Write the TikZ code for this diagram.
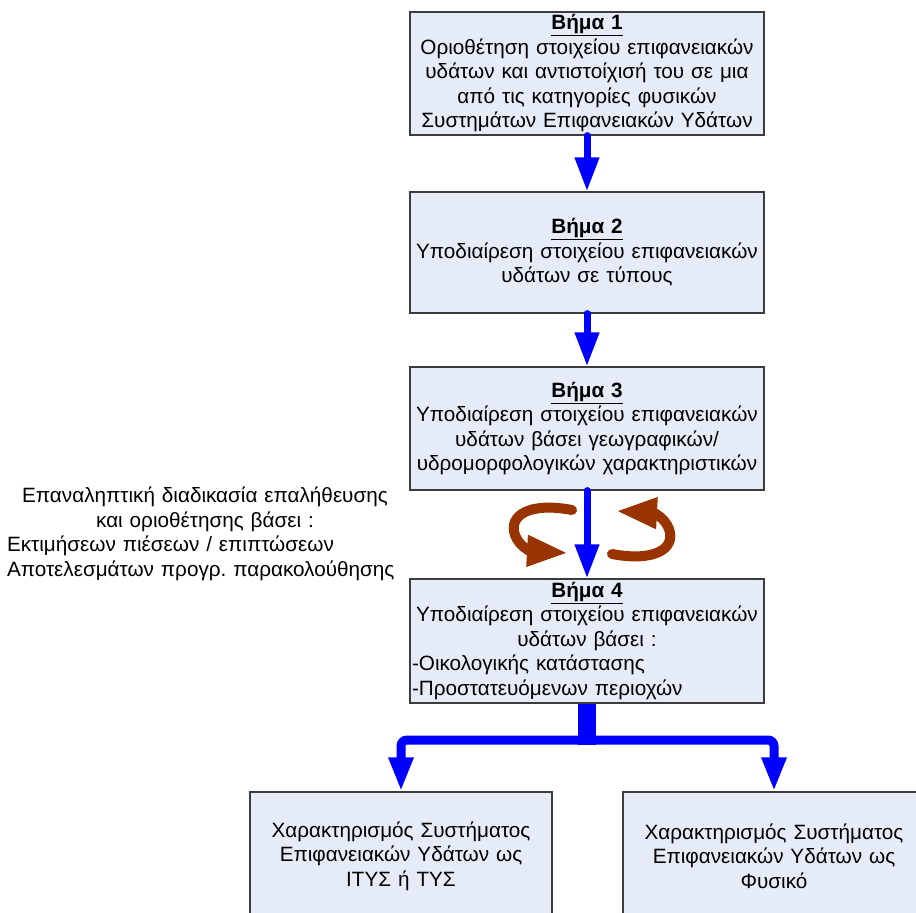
\documentclass[tikz,border=0pt]{standalone}
\usepackage{fontspec}
\setmainfont{Liberation Sans}
\usetikzlibrary{arrows.meta}
\definecolor{boxfill}{RGB}{230,236,247}
\definecolor{boxline}{RGB}{60,60,60}
\definecolor{loopbrown}{RGB}{153,51,0}
\definecolor{flowblue}{RGB}{0,0,255}
\frenchspacing
\begin{document}
\begin{tikzpicture}[x=1pt,y=-1pt,
  txt/.style={font=\fontsize{20.7}{24.5}\selectfont},
  stepbox/.style={txt,draw=boxline,fill=boxfill,line width=1.2pt,minimum width=354pt,inner sep=0pt,text width=350pt},
  endbox/.style={txt,draw=boxline,fill=boxfill,line width=1.2pt,minimum width=302pt,minimum height=128pt,inner sep=0pt,text width=298pt,align=center},
  flow/.style={draw=flowblue,line width=7pt,line cap=round,-{Triangle[width=23pt,length=34pt]}},
  forkleg/.style={draw=flowblue,line width=9pt,rounded corners=6pt,-{Triangle[width=23pt,length=34pt]}},
  loopy/.style={draw=loopbrown,line width=10pt,line cap=round,-{Triangle[width=29pt,length=41pt]}}]
\useasboundingbox (0,0) rectangle (916,913);
\clip (0,0) rectangle (916,913);
\fill[white] (0,0) rectangle (916,913);

\node[stepbox,minimum height=123pt,align=center] (b1) at (587,73.5)
 {\underline{\textbf{Βήμα 1}}\\Οριοθέτηση στοιχείου επιφανειακών\\υδάτων και αντιστοίχισή του σε μια\\από τις κατηγορίες φυσικών\\Συστημάτων Επιφανειακών Υδάτων};
\node[stepbox,minimum height=121pt,align=center] (b2) at (587,252.5)
 {\underline{\textbf{Βήμα 2}}\\Υποδιαίρεση στοιχείου επιφανειακών\\υδάτων σε τύπους};
\node[stepbox,minimum height=123pt,align=center] (b3) at (587,428.5)
 {\underline{\textbf{Βήμα 3}}\\Υποδιαίρεση στοιχείου επιφανειακών\\υδάτων βάσει γεωγραφικών/\\υδρομορφολογικών χαρακτηριστικών};
\node[stepbox,minimum height=124pt] (b4) at (587,641)
 {\centering\underline{\textbf{Βήμα 4}}\\Υποδιαίρεση στοιχείου επιφανειακών\\υδάτων βάσει :\par
  \raggedright -Οικολογικής κατάστασης\\-Προστατευόμενων περιοχών\par};

\node[endbox] (b5) at (401,856) {Χαρακτηρισμός Συστήματος\\Επιφανειακών Υδάτων ως\\ΙΤΥΣ ή ΤΥΣ};
\node[endbox] (b6) at (774,856) {Χαρακτηρισμός Συστήματος\\Επιφανειακών Υδάτων ως\\Φυσικό};

\node[txt,text width=396pt,inner sep=0pt] (note) at (205,534)
 {\centering Επαναληπτική διαδικασία επαλήθευσης\\και οριοθέτησης βάσει :\par
  \raggedright Εκτιμήσεων πιέσεων / επιπτώσεων\\Αποτελεσμάτων προγρ. παρακολούθησης\par};

\draw[flow] (b1.south) -- (b2.north);
\draw[flow] (b2.south) -- (b3.north);
\draw[flow] (b3.south) -- (b4.north);

\coordinate (fork) at (587,740);
\coordinate (stemend) at (587,745);
\draw[draw=flowblue,line width=18pt] (b4.south) -- (stemend);
\draw[forkleg] (fork) -| (b5.north);
\draw[forkleg] (fork) -| (b6.north);

\draw[loopy] (572,510) .. controls (530,502) and (508,515) .. (515,535)
  .. controls (519,546) and (530,551) .. (568,553);
\draw[loopy] (612,554) .. controls (654,562) and (676,549) .. (669,529)
  .. controls (665,518) and (654,513) .. (616,511);
\end{tikzpicture}
\end{document}
